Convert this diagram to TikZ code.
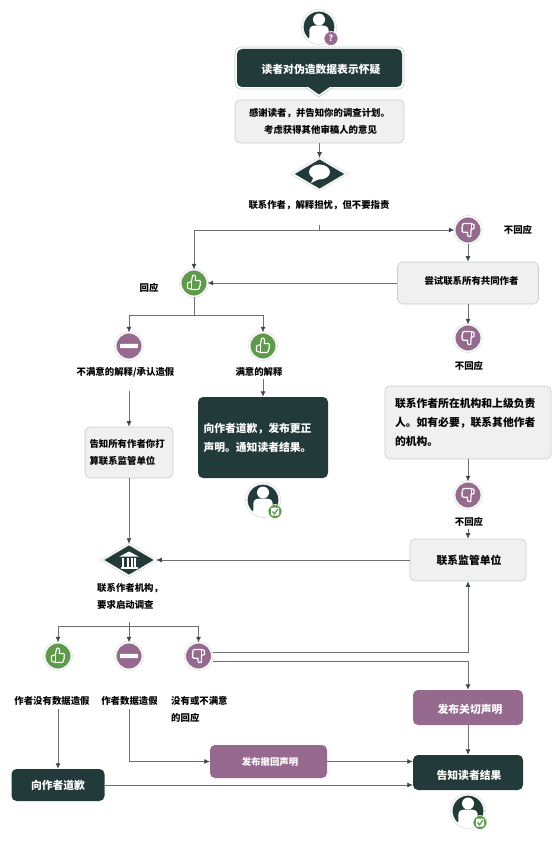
\documentclass[tikz,border=0pt]{standalone}
\usepackage{fontspec}
\setmainfont{Noto Sans CJK SC}
\usetikzlibrary{shapes.geometric,arrows.meta}
\definecolor{darkbox}{HTML}{233A3B}
\definecolor{plum}{HTML}{966A8F}
\definecolor{leaf}{HTML}{5D9A4A}
\definecolor{pale}{HTML}{F0F0F0}
\definecolor{edge}{HTML}{CDCDCD}
\definecolor{wire}{HTML}{6E6E6E}
\definecolor{tipc}{HTML}{3C4A4A}
\tikzset{
  small/.style={font=\fontsize{9.4}{17.5}\selectfont\bfseries},
  big/.style={font=\fontsize{10.8}{19}\selectfont\bfseries},
  lab/.style={small,text=black,inner sep=0pt,align=left},
  box/.style={rectangle,rounded corners=5pt,inner sep=0pt,align=left},
  palebox/.style={box,fill=pale,draw=edge,line width=.7pt,text=black},
  darkb/.style={box,fill=darkbox,text=white,big},
  plumb/.style={box,fill=plum,text=white},
  sized/.style n args={2}{minimum width=#1,minimum height=#2},
  tshift/.style={text height={8pt+2*(#1)},text depth=0pt},
  badge/.style={circle,draw=edge,double=white,double distance=1.3pt,line width=.4pt,inner sep=0pt,minimum size=27pt},
  dia/.style={diamond,fill=darkbox,draw=edge,double=white,double distance=1.2pt,line width=.5pt,inner sep=0pt,minimum width=54pt,minimum height=32pt},
  conn/.style={draw=wire,line width=.8pt},
  arr/.style={conn,-{Latex[length=5.5pt,width=5pt,color=tipc]}},
  pics/thumbup/.style={code={
    \draw[white,line width=1.1pt,line join=round,fill=leaf]
      (-6.5,0)--(-2.5,-1.5)--(-1.5,-7.5)..controls(.5,-9)and(2.5,-7)..(1.2,-2.5)--(5.5,-2.5)
      ..controls(7,-2.5)and(7,0)..(6,.5)..controls(7,1.5)and(6.5,3)..(5.5,3.3)
      ..controls(6,4.5)and(5.5,6)..(4,6.5)--(-2.5,6.5)--(-6.5,5)--cycle;
    \draw[white,line width=.7pt](-2.5,-1.5)--(-2.5,6.5);
  }},
  pics/thumbdown/.style={code={
    \draw[white,line width=1.2pt,line join=round,fill=plum]
      (6,-1.5)--(3,-.5)--(2.8,6.5)..controls(1,8)and(-1,6.5)..(-.5,2.2)--(-4.8,2.2)
      ..controls(-6.5,1.5)and(-6.5,0)..(-5.6,-.5)..controls(-6.6,-1.5)and(-6.3,-3)..(-5.4,-3.5)
      ..controls(-5.9,-5)and(-5.5,-6.5)..(-4,-6.5)--(3,-6.5)--(6,-5.5)--cycle;
    \draw[white,line width=.7pt](3,-.5)--(3,-6.5);
  }},
  pics/minusbar/.style={code={
    \fill[white,rounded corners=.5pt](-8.8,-2.2) rectangle (8.8,2.2);
  }},
}
\newcommand{\usermark}[4]{% centre x, y, name, kind
  \node[circle,fill=darkbox,draw=edge,double=white,double distance=1.3pt,line width=.5pt,inner sep=0pt,minimum size=33pt] (#3) at (#1,#2) {};
  \begin{scope}
    \clip (#1,#2) circle (16.5pt);
    \fill[white] (#1,#2-7.5) circle (6pt);
    \fill[white] (#1-10,#2+18) -- (#1-9.5,#2+2.5) .. controls (#1-9,#2-1) and (#1-5,#2-1.5) .. (#1-3.5,#2-1.5)
       -- (#1+3.5,#2-1.5) .. controls (#1+5,#2-1.5) and (#1+9,#2-1) .. (#1+9.5,#2+2.5) -- (#1+10,#2+18) -- cycle;
  \end{scope}
  \ifnum#4=0
    \node[circle,fill=plum,draw=white,line width=.6pt,inner sep=0pt,minimum size=14pt,text=white,font=\fontsize{8.5}{8.5}\selectfont\bfseries] (#3b) at (#1+12,#2+11.5) {?};
  \else
    \node[circle,fill=leaf,draw=white,line width=.6pt,inner sep=0pt,minimum size=14pt] (#3b) at (#1+12,#2+11.5) {};
    \fill[white,rounded corners=.8pt] (#1+8,#2+7.5) rectangle (#1+16,#2+15.5);
    \draw[leaf,line width=1.3pt] (#1+9.5,#2+11.5) -- (#1+11.5,#2+13.8) -- (#1+15,#2+9);
  \fi
}
\begin{document}
\begin{tikzpicture}[x=1pt,y=-1pt]
\useasboundingbox (0,0) rectangle (554,858);

% top question
\usermark{319}{27}{reader}{0}
\draw[edge,line width=.7pt,fill=white,rounded corners=6pt] (235,47) rectangle (404,89);
\draw[edge,line width=.7pt,fill=white,line join=round] (305,87) -- (319,97) -- (333,87);
\fill[white] (306,86) rectangle (332,88.5);
\fill[darkbox] (307,86) -- (319,94.5) -- (331,86) -- cycle;
\node[darkb,align=center,sized={165pt}{38pt},tshift=1.5] (q) at (319.5,68) {\hspace*{3pt}读者对伪造数据表示怀疑};
\node[palebox,small,align=center,sized={169pt}{43pt}] (thanks) at (319.5,121.5) {感谢读者，并告知你的调查计划。\\\hspace*{2pt}考虑获得其他审稿人的意见};
\node[dia] (d1) at (319.5,174) {};
\fill[white] (319.5,172) ellipse (10.5pt and 7.5pt);
\fill[white] (314,176) -- (311,183) -- (320,178.5) -- cycle;
\node[lab] (contact) at (319,205) {联系作者，解释担忧，但不要指责};
\coordinate (junc) at (319.5,230);
\coordinate (stub) at (319.5,225);
\draw[arr] (thanks.south) -- (d1.north);
\draw[conn] (stub) -- (junc);

% thumbs
\node[badge,fill=leaf] (up1) at (194,283) {};
\pic at (194,283) {thumbup};
\node[badge,fill=plum] (dn1) at (468,230) {};
\pic at (468,230) {thumbdown};
\node[lab] (nr1) at (518,230) {不回应};
\node[lab] (resp) at (149,288) {回应};
\draw[arr] (junc) -| (up1.north);
\draw[arr] (junc) -- (dn1.west);

% right column
\node[palebox,small,sized={141pt}{42pt},align=center,tshift=-3] (co) at (468,283) {\hspace*{7pt}尝试联系所有共同作者};
\draw[arr] (dn1.south) -- (co.north);
\draw[arr] (co.west) -- (up1.east);
\node[badge,fill=plum] (dn2) at (468,338) {};
\pic at (468,338) {thumbdown};
\draw[arr] (co.south) -- (dn2.north);
\node[lab] (nr2) at (469,366) {不回应};
\node[palebox,big,sized={166pt}{73pt},text width=146pt] (inst) at (468,422.5) {联系作者所在机构和上级负责\\人。如有必要，联系其他作者\\的机构。};
\node[badge,fill=plum] (dn3) at (468,495) {};
\pic at (468,495) {thumbdown};
\draw[arr] (inst.south) -- (dn3.north);
\node[lab] (nr3) at (469,522) {不回应};
\node[palebox,big,sized={116pt}{42pt},align=center] (reg) at (468,560) {\hspace*{2pt}联系监管单位};
\coordinate (nr3s) at (468,529);
\draw[arr] (nr3s) -- (reg.north);

% middle branch
\coordinate (split) at (194,315.5);
\node[badge,fill=plum] (mi1) at (129,346) {};
\pic at (129,346) {minusbar};
\node[badge,fill=leaf] (up2) at (263,346) {};
\pic at (263,346) {thumbup};
\draw[conn] (up1.south) -- (split);
\draw[arr] (split) -| (mi1.north);
\draw[arr] (split) -| (up2.north);
\node[lab] (l1) at (125.5,372) {不满意的解释/承认造假};
\node[lab] (l2) at (259,372) {满意的解释};
\coordinate (l1s) at (129,391);
\coordinate (l2s) at (263,379);
\node[darkb,sized={130pt}{81pt},text width=119pt] (apol) at (263,437.5) {向作者道歉，发布更正\\声明。通知读者结果。};
\draw[arr] (l2s) -- (apol.north);
\usermark{263}{500}{reader2}{1}
\node[palebox,small,sized={88pt}{51pt},text width=79pt] (tell) at (129,452.5) {告知所有作者你打\\算联系监管单位};
\draw[arr] (l1s) -- (tell.north);

% institution
\node[dia] (d2) at (129,560) {};
\draw[arr] (tell.south) -- (d2.north);
\draw[arr] (reg.west) -- (d2.east);
\fill[white] (129,551.5) -- (119.5,556.5) -- (138.5,556.5) -- cycle;
\fill[white] (120.5,567) rectangle (137.5,569);
\foreach \cx in {123,127.5,131.5,135} \fill[white] (\cx-1,557.5) rectangle (\cx+1,566.5);
\node[lab] (l3) [anchor=west] at (97,596.5) {联系作者机构，\\要求启动调查};
\coordinate (fan) at (129,626);
\coordinate (fans) at (129,622);
\node[badge,fill=leaf] (up3) at (58,656) {};
\pic at (58,656) {thumbup};
\node[badge,fill=plum] (mi2) at (129,656) {};
\pic at (129,656) {minusbar};
\node[badge,fill=plum] (dn4) at (198.5,656) {};
\pic at (198.5,656) {thumbdown};
\draw[arr] (fans) -- (mi2.north);
\draw[arr] (fan) -| (up3.north);
\draw[arr] (fan) -| (dn4.north);
\node[lab] (l4) at (52,701) {作者没有数据造假};
\node[lab] (l5) at (129.5,701) {作者数据造假};
\node[lab] (l6) [anchor=west] at (171,709.5) {没有或不满意\\的回应};

% bottom
\node[darkb,sized={93pt}{32pt},align=center,tshift=0] (sorry) at (58,785) {向作者道歉};
\node[plumb,small,sized={117pt}{33pt},align=center] (retr) at (268.5,761.5) {\hspace*{3pt}发布撤回声明};
\node[plumb,big,sized={110pt}{35pt},align=center,tshift=1.5] (conc) at (468,707.5) {\hspace*{4pt}发布关切声明};
\node[darkb,sized={110pt}{35pt},align=center,tshift=2.5] (notify) at (468,772.5) {\hspace*{2pt}告知读者结果};
\coordinate (l4s) at (58,709);
\coordinate (l5s) at (129,709);
\coordinate (e1) at (213,652);
\coordinate (e2) at (213,661);
\draw[arr] (l4s) -- (sorry.north);
\draw[arr] (l5s) |- (retr.west);
\draw[arr] (retr.east) -- (notify.west |- retr.east);
\draw[arr] (sorry.east) -- (notify.west |- sorry.east);
\draw[arr] (e1) -| (reg.south);
\draw[arr] (e2) -| (conc.north);
\draw[arr] (conc.south) -- (notify.north);
\usermark{468}{811}{reader3}{1}
\end{tikzpicture}
\end{document}
